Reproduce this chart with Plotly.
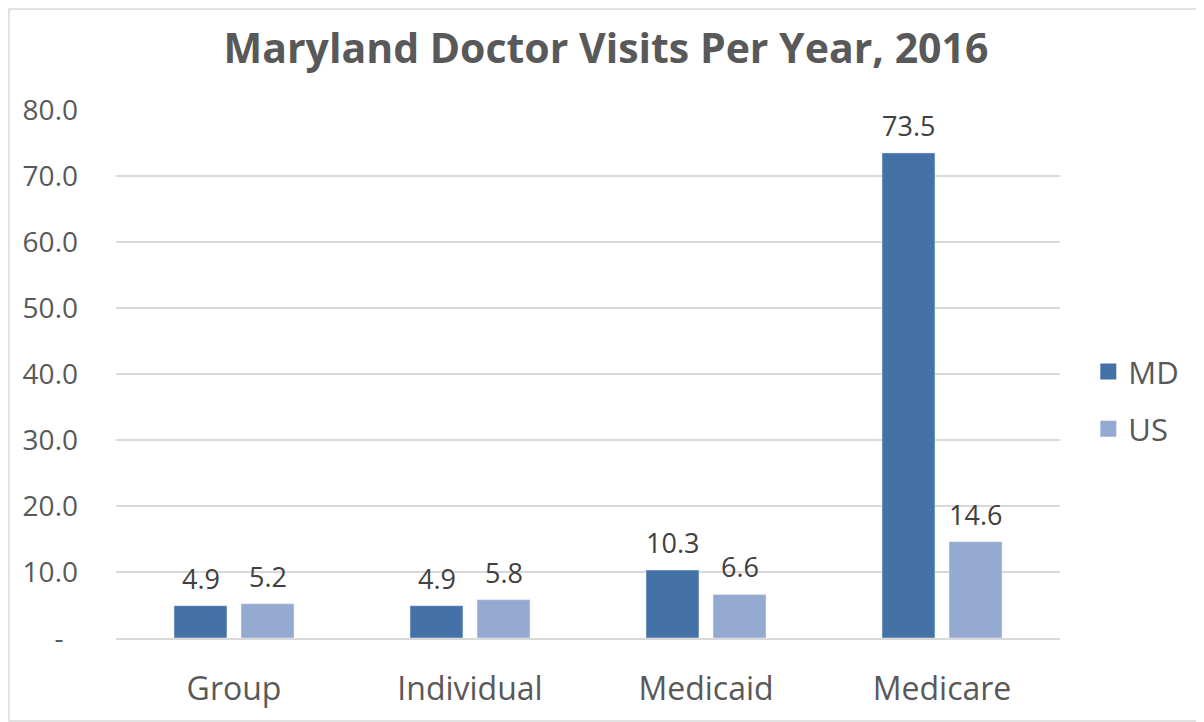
import plotly.graph_objects as go

categories = ["Group", "Individual", "Medicaid", "Medicare"]
md_values = [4.9, 4.9, 10.3, 73.5]
us_values = [5.2, 5.8, 6.6, 14.6]
tick_vals = [0, 10, 20, 30, 40, 50, 60, 70, 80]
tick_text = ["-" + "\u00a0" * 2, "10.0", "20.0", "30.0", "40.0", "50.0", "60.0", "70.0", "80.0"]

FONT = "Open Sans"
MD_COLOR = "#4472a6"
US_COLOR = "#95aad1"
W, H = 1196, 714
L, R, T, B = 108, 144, 102, 84

fig = go.Figure()
fig.add_trace(go.Bar(name="MD", x=categories, y=md_values, marker_color=MD_COLOR,
                     showlegend=False, offsetgroup="md"))
fig.add_trace(go.Bar(name="US", x=categories, y=us_values, marker_color=US_COLOR,
                     showlegend=False, offsetgroup="us"))
# legend entries
fig.add_trace(go.Scatter(name="MD", x=[None], y=[None], mode="markers",
                         marker=dict(symbol="square", size=16, color=MD_COLOR), legendgroup="a"))
fig.add_trace(go.Scatter(name="US", x=[None], y=[None], mode="markers",
                         marker=dict(symbol="square", size=16, color=US_COLOR), legendgroup="b"))

# data labels
for vals, shift in ((md_values, -33.5), (us_values, 33.5)):
    for c, v in zip(categories, vals):
        fig.add_annotation(x=c, y=v, text=f"{v:.1f}", showarrow=False, xshift=shift,
                           yanchor="bottom", yshift=7,
                           font=dict(size=27, color="#404040", family=FONT))

fig.update_layout(
    width=W, height=H,
    paper_bgcolor="white", plot_bgcolor="white",
    barmode="group", bargap=0.432, bargroupgap=0.21,
    margin=dict(l=L, r=R, t=T, b=B),
    title=dict(text="<b>Maryland Doctor Visits Per Year, 2016</b>", x=0.5, xanchor="center",
               y=1 - 41 / H, yanchor="middle",
               font=dict(family=FONT, size=41, color="#595959")),
    font=dict(family=FONT, color="#595959"),
    legend=dict(x=1.03, xanchor="left", y=0.45, yanchor="middle",
                font=dict(size=31, color="#595959", family=FONT),
                tracegroupgap=14),
    showlegend=True,
)
fig.update_yaxes(range=[0, 80], tickvals=tick_vals, ticktext=tick_text,
                 showgrid=True, gridcolor="#d9d9d9", gridwidth=1.5,
                 zeroline=False, showline=False, ticks="",
                 tickfont=dict(size=28, color="#595959", family=FONT), ticklabelstandoff=37)
fig.update_xaxes(showline=True, linecolor="#d9d9d9", linewidth=1.5, ticks="",
                 tickfont=dict(size=32, color="#595959", family=FONT), ticklabelstandoff=22)
pw, ph = W - L - R, H - T - B
fig.add_shape(type="rect", xref="paper", yref="paper",
              x0=-(L - 1) / pw, x1=1 + (R - 1) / pw, y0=-(B - 1) / ph, y1=1 + (T - 1) / ph,
              line=dict(color="#d9d9d9", width=1.5), layer="below")
fig.write_html("out.html")
